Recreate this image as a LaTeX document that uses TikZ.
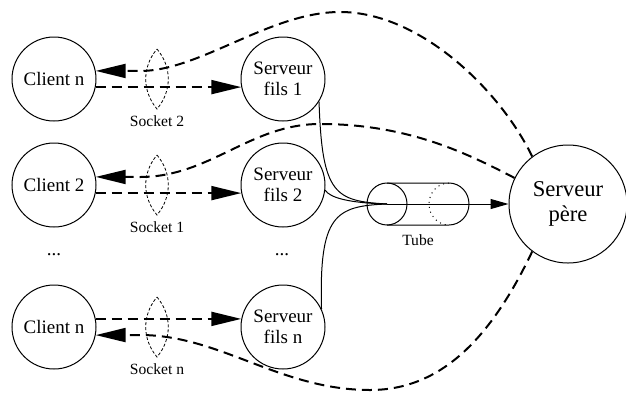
\documentclass[tikz,border=0pt]{standalone}
\usepackage{fontspec}
\setmainfont{Liberation Serif}
\usetikzlibrary{positioning,arrows.meta}

\begin{document}
\begin{tikzpicture}[%
            x=0.5pt, y=-0.5pt,
            proc/.style={circle, draw, line width=0.5pt, minimum size=42pt, inner sep=0pt, align=center, font=\fontsize{9.5}{10.5}\selectfont},
            bigproc/.style={proc, minimum size=59pt, font=\fontsize{11.3}{12.5}\selectfont},
            etc/.style={font=\fontsize{9.5}{10.5}\selectfont},
            msg/.style={-{Triangle[length=15pt,width=7pt]}, line width=1pt, dash pattern=on 5pt off 3pt},
            link/.style={line width=0.5pt},
            pipe/.style={-{Triangle[length=9pt,width=5pt]}, line width=0.5pt},
            socket/.style={line width=0.4pt, dash pattern=on 1.5pt off 1pt},
            lbl/.style={font=\fontsize{7.8}{9}\selectfont, inner sep=0pt}
        ]
        \useasboundingbox (0,0) rectangle (626,392);

        % Clients
        \node[proc] (client1) at (54,79) {Client n};
        \node[proc] (client2) at (54,185) {Client 2};
        \node[proc] (client3) at (54,327) {Client n};
        \node[etc] (dots1) at (54,255) {...};

        % Serveurs fils
        \node[proc] (fils1) [right=72pt of client1] {Serveur\\fils 1};
        \node[proc] (fils2) [right=72pt of client2] {Serveur\\fils 2};
        \node[proc] (fils3) [right=72pt of client3] {Serveur\\fils n};
        \node[etc] (dots2) at (282,255) {...};

        % Serveur pere
        \node[bigproc] (pere) at (568,204) {Serveur\\père};

        % Sockets
        \draw[socket] (157,49) to[bend left=40] (157,109) to[bend left=40] (157,49);
        \draw[socket] (157,155) to[bend left=40] (157,215) to[bend left=40] (157,155);
        \draw[socket] (157,297) to[bend left=40] (157,357) to[bend left=40] (157,297);
        \node[lbl] (sock2) at (157,121) {Socket 2};
        \node[lbl] (sock1) at (157,227) {Socket 1};
        \node[lbl] (sockn) at (157,369) {Socket n};

        % Tube
        \coordinate (tube) at (387,204);
        \draw[link] (tube) ellipse [x radius=20, y radius=21];
        \draw[link] (387,183) -- (449,183) arc[start angle=-90, end angle=90, x radius=20, y radius=21] -- (387,225);
        \draw[link, dotted] (449,183) arc[start angle=-90, end angle=-270, x radius=20, y radius=21];
        \node[lbl] (tubelbl) at (418,240) {Tube};

        % Fils vers le tube
        \draw[link] (fils1.-32) .. controls (322,195) and (335,201) .. (tube);
        \draw[link] (fils2.-7) .. controls (330,198) and (350,203) .. (tube);
        \draw[link] (fils3.25) .. controls (319,215) and (335,206) .. (tube);
        \draw[pipe] (tube) -- (pere);

        % Clients vers fils
        \draw[msg] (client1.-11) -- (fils1.191);
        \draw[msg] (client2.-11) -- (fils2.191);
        \draw[msg] (client3.11) -- (fils3.169);

        % Pere vers clients
        \draw[msg] (pere.127) .. controls (500,90) and (420,12) .. (340,12) .. controls (270,12) and (200,71) .. (140,71) -- (client1.11);
        \draw[msg] (pere.154) .. controls (470,155) and (410,124) .. (320,124) .. controls (250,124) and (210,177) .. (140,177) -- (client2.11);
        \draw[msg] (pere.233) .. controls (490,340) and (440,390) .. (370,390) .. controls (280,390) and (220,335) .. (140,335) -- (client3.-11);

        \end{tikzpicture}
\end{document}
